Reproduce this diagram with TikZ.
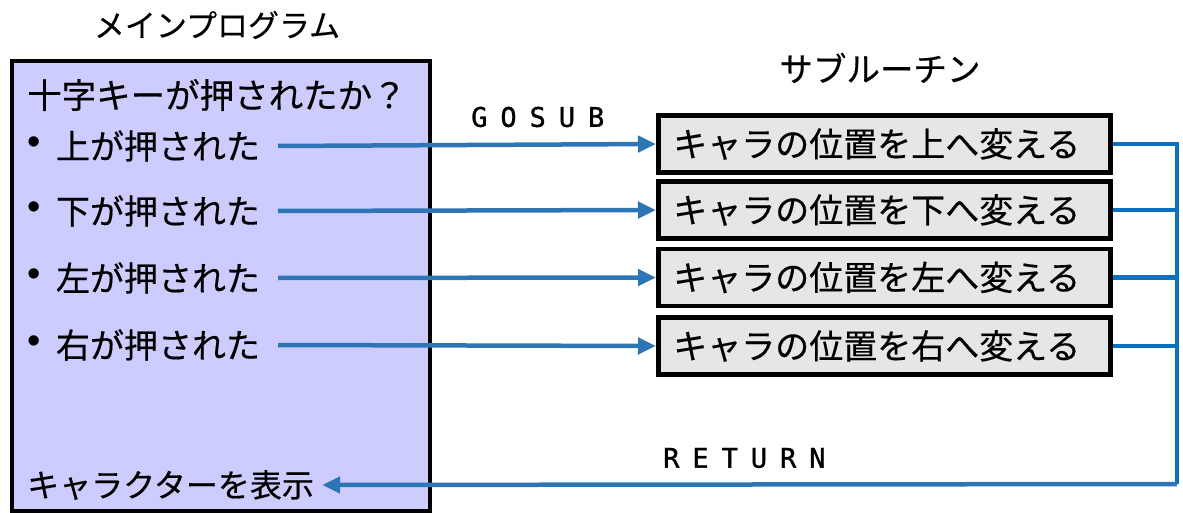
\documentclass[tikz,border=0pt]{standalone}
\usepackage{fontspec}
\newfontfamily\jp[FakeBold=0.4]{Noto Sans CJK JP}
\newfontfamily\bulfont{Liberation Sans}
\newfontfamily\labfont[LetterSpace=48,FakeBold=1.2]{DejaVu Sans Mono}
\usetikzlibrary{arrows.meta,calc}
\definecolor{mainfill}{HTML}{CCCCFF}
\definecolor{subfill}{HTML}{E6E6E6}
\definecolor{arrblue}{HTML}{2E75B6}
\definecolor{busblue}{HTML}{0A70C2}
\tikzset{
  jptext/.style={font=\jp\fontsize{34}{38}\selectfont, inner sep=0pt},
  titletext/.style={font=\jp\fontsize{31}{36}\selectfont, inner sep=0pt},
  subbox/.style={draw=black, line width=4.5pt, fill=subfill, minimum height=57pt,
    text width=422pt, inner xsep=15pt, inner ysep=0pt, align=left,
    font=\jp\fontsize{34}{38}\selectfont},
  lab/.style={font=\labfont\fontsize{27}{30}\selectfont, inner sep=0pt, anchor=west},
  gosub/.style={draw=arrblue, line width=4.5pt, -{Triangle[length=18pt,width=16pt]}},
  bus/.style={draw=busblue, line width=4.5pt, line join=miter},
  retarrow/.style={draw=arrblue, line width=4.5pt, -{Triangle[length=18pt,width=16pt]}},
}
\begin{document}
\begin{tikzpicture}[x=1pt,y=-1pt]
\useasboundingbox (0,0) rectangle (1183,513);
% main program box
\draw[line width=4.5pt, fill=mainfill] (12,61) rectangle (430,511);
\node[titletext] (mtitle) at (217,25) {メインプログラム};
\node[titletext, font=\jp\fontsize{33.5}{36}\selectfont] (stitle) at (880,68) {サブルーチン};
\node[jptext, font=\jp\fontsize{34.5}{38}\selectfont, anchor=west] (q) at (27,95) {十字キーが押されたか？};
\foreach \n/\y/\t in {u/146/上, d/211/下, l/278/左, r/345/右}{
  \node[inner sep=0pt, font=\bulfont\fontsize{38}{38}\selectfont, anchor=center] (b\n) at (34,\y) {•};
  \node[jptext, anchor=west, outer xsep=0pt] (\n) at (56,\y) {\t が押された};
}
\node[jptext, font=\jp\fontsize{32}{36}\selectfont, anchor=west] (disp) at (27,485) {キャラクターを表示};
% subroutine boxes
\node[subbox, anchor=west] (su) at (656,144) {キャラの位置を上へ変える};
\node[subbox, anchor=west] (sd) at (656,210) {キャラの位置を下へ変える};
\node[subbox, anchor=west] (sl) at (656,277.5) {キャラの位置を左へ変える};
\node[subbox, anchor=west] (sr) at (656,346) {キャラの位置を右へ変える};
% labels
\node[lab] (gosublab) at (471,117) {GOSUB};
\node[lab] (retlab) at (663,458) {RETURN};
% gosub arrows
\foreach \n in {u,d,l,r}{
  \draw[gosub] ($(\n.east)+(18,0)$) -- (s\n.west);
}
% return bus
\coordinate (corner) at (1177,484);
\draw[bus] (su.east) -| (corner);
\foreach \n in {d,l,r}{
  \draw[bus] (s\n.east) -- (s\n.east -| corner);
}
\draw[retarrow] (corner) -- ($(disp.east)+(8,0)$);
\end{tikzpicture}
\end{document}
